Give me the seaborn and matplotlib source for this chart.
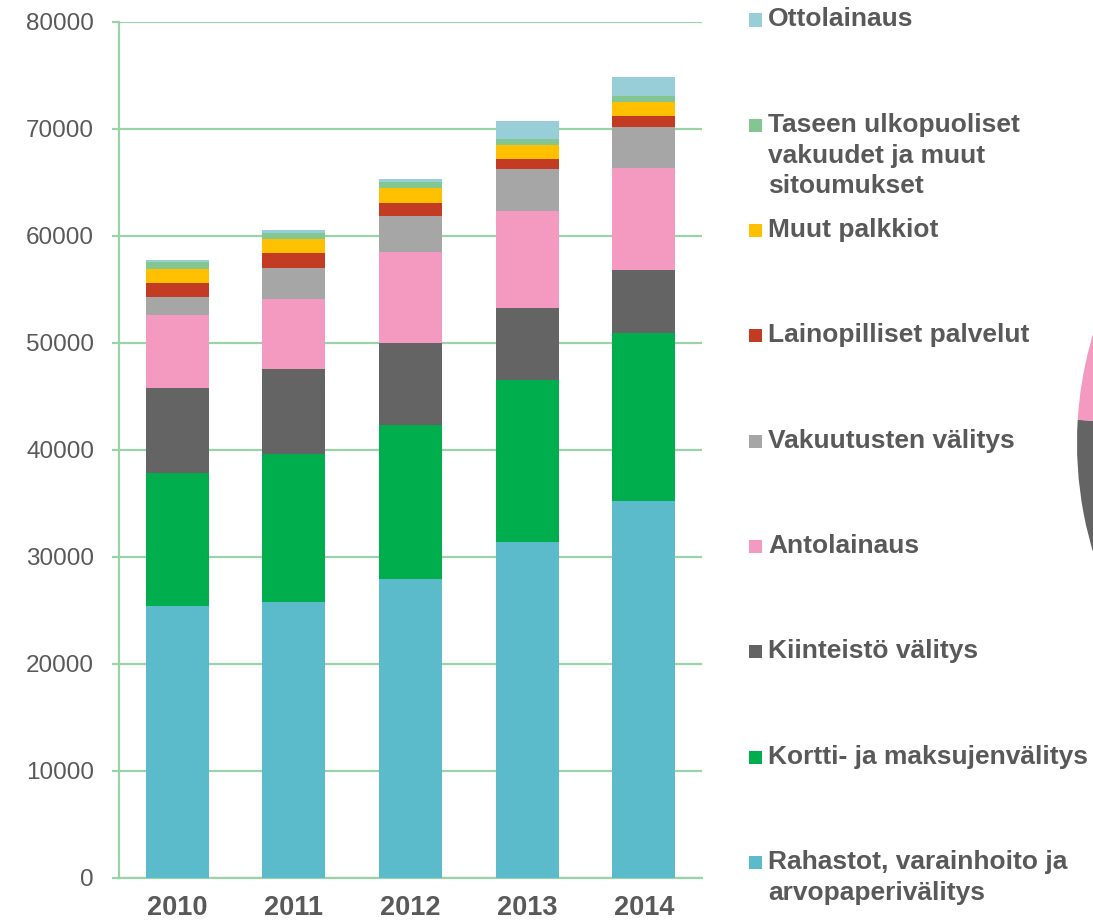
import numpy as np
import pandas as pd
import matplotlib
matplotlib.use("Agg")
import matplotlib.pyplot as plt
import seaborn as sns

years = ["2010", "2011", "2012", "2013", "2014"]

series = [
    "Rahastot, varainhoito ja\narvopaperivälitys",
    "Kortti- ja maksujenvälitys",
    "Kiinteistö välitys",
    "Antolainaus",
    "Vakuutusten välitys",
    "Lainopilliset palvelut",
    "Muut palkkiot",
    "Taseen ulkopuoliset\nvakuudet ja muut\nsitoumukset",
    "Ottolainaus",
]

rahastot = [25420, 25790, 27940, 31430, 35210]
kortti = [12400, 13830, 14360, 15080, 15730]
kiinteisto = [7940, 7940, 7660, 6790, 5920]
antolainaus = [6850, 6540, 8560, 9070, 9470]
vakuutus = [1680, 2900, 3350, 3870, 3830]
lainopilliset = [1340, 1400, 1250, 970, 1030]
muut = [1250, 1310, 1350, 1340, 1370]
taseen = [700, 590, 550, 530, 530]
otto = [200, 220, 300, 1680, 1750]

values = [rahastot, kortti, kiinteisto, antolainaus, vakuutus,
          lainopilliset, muut, taseen, otto]

colors = ["#5CBBCA", "#00AE4D", "#646464", "#F49AC1", "#A6A6A6",
          "#C23B22", "#FFC000", "#84C691", "#97CED8"]

grid_c = "#9BD3A8"
text_c = "#595959"

sns.set_theme(style="white")
plt.rcParams["font.family"] = ["Liberation Sans", "DejaVu Sans"]

fig = plt.figure(figsize=(10.93, 9.24), dpi=100)
ax = fig.add_axes([0.1089, 0.0498, 0.5334, 0.9264])

bottom = np.zeros(len(years))
for name, vals, col in zip(series, values, colors):
    df = pd.DataFrame({"year": years, "value": vals})
    sns.barplot(data=df, x="year", y="value", color=col, bottom=bottom,
                width=0.54, ax=ax, saturation=1, errorbar=None,
                edgecolor="none", linewidth=0, zorder=3)
    bottom = bottom + np.array(vals)

ax.set_xlim(-0.5, 4.5)
ax.set_ylim(0, 80000)
ax.set_yticks(np.arange(0, 80001, 10000))
ax.set_yticklabels([str(v) for v in range(0, 80001, 10000)],
                   fontsize=17.5, color=text_c)
ax.yaxis.grid(True, color=grid_c, linewidth=1.6, zorder=0)
ax.set_axisbelow(True)
ax.set_xlabel("")
ax.set_ylabel("")

# category labels and boundary ticks
ax.set_xticks(range(len(years)))
ax.set_xticklabels(years, fontsize=19.5, fontweight="bold", color=text_c)
ax.tick_params(axis="x", length=0, pad=12)
ax.set_xticks(np.arange(-0.5, 5.0, 1.0), minor=True)
ax.tick_params(axis="x", which="minor", length=5, width=1.6, color=grid_c,
               direction="out")
ax.tick_params(axis="y", length=5, width=1.6, color=grid_c, direction="out",
               pad=13, left=True)

for s in ["top", "right"]:
    ax.spines[s].set_visible(False)
for s in ["left", "bottom"]:
    ax.spines[s].set_color(grid_c)
    ax.spines[s].set_linewidth(1.6)

# legend (manual, reverse order)
W, H = 1093, 924
for i, (name, col) in enumerate(zip(series[::-1], colors[::-1])):
    yc = 20 + i * 105.3
    fig.patches.append(matplotlib.patches.Rectangle(
        (749 / W, 1 - (yc + 6.5) / H), 13 / W, 13 / H,
        transform=fig.transFigure, facecolor=col, edgecolor="none"))
    fig.text(768 / W, 1 - (yc - 12.5) / H, name, fontsize=19,
             fontweight="bold", color=text_c, va="top", ha="left",
             linespacing=1.36)

# partially visible pie at the right edge (2014 shares)
R = 378
cx, cy = 1077 + R, 443
pax = fig.add_axes([(cx - R) / W, 1 - (cy + R) / H, 2 * R / W, 2 * R / H])
share2014 = [v[-1] for v in values]
pax.pie(share2014, colors=colors, startangle=90, counterclock=False,
        wedgeprops=dict(linewidth=0))
pax.set_xlim(-1, 1)
pax.set_ylim(-1, 1)
pax.set_axis_off()

fig.savefig("out.png", dpi=100)
